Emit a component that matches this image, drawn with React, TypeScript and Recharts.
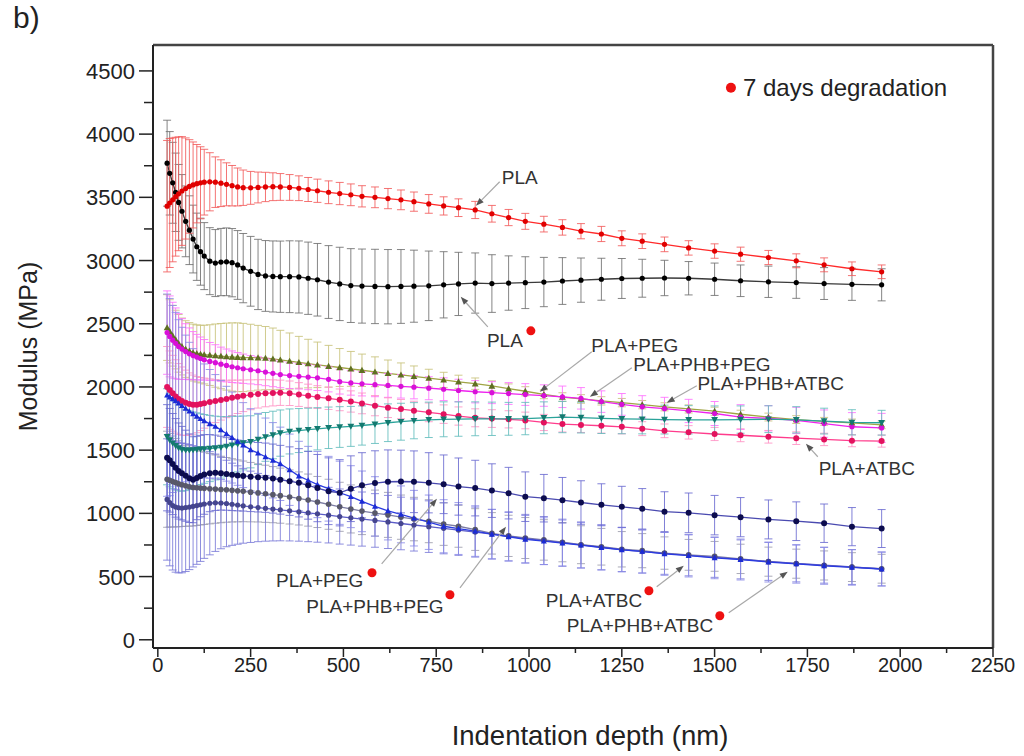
import { ComposedChart, Line, ErrorBar, XAxis, YAxis, ReferenceDot, ReferenceLine } from "recharts"

const FONT = '"Liberation Sans", Arial, Helvetica, sans-serif'

// indentation depth (nm) of the sampled points
const depth = [
  25, 32, 40, 48, 56, 65, 75, 85, 95, 105,
  115, 125, 140, 155, 170, 185, 200, 215, 230, 250,
  270, 290, 310, 330, 355, 380, 405, 430, 460, 490,
  520, 550, 585, 620, 655, 690, 730, 770, 810, 855,
  900, 945, 990, 1040, 1090, 1140, 1195, 1250, 1305, 1365,
  1430, 1500, 1570, 1645, 1720, 1795, 1870, 1950,
]

// fresh samples
const plaMean = [
  3430, 3455, 3480, 3505, 3528, 3550, 3570, 3586, 3598, 3608,
  3615, 3620, 3623, 3620, 3612, 3603, 3592, 3582, 3576, 3575,
  3578, 3582, 3584, 3582, 3578, 3572, 3562, 3552, 3540, 3530,
  3520, 3508, 3500, 3490, 3480, 3466, 3448, 3432, 3418, 3400,
  3370, 3340, 3310, 3288, 3262, 3232, 3210, 3176, 3153, 3128,
  3100, 3075, 3050, 3024, 2998, 2966, 2935, 2911,
]
const plaErr = [
  520, 510, 490, 470, 450, 430, 400, 370, 340, 310,
  285, 260, 230, 200, 185, 170, 160, 150, 140, 130,
  122, 116, 110, 106, 102, 98, 95, 92, 90, 88,
  86, 84, 82, 80, 78, 76, 74, 72, 70, 68,
  66, 64, 63, 62, 61, 60, 60, 59, 58, 58,
  57, 57, 56, 56, 55, 55, 54, 54,
]
const pegMean = [
  2470, 2440, 2405, 2375, 2345, 2320, 2300, 2285, 2272, 2265,
  2260, 2256, 2252, 2248, 2244, 2240, 2237, 2235, 2233, 2232,
  2231, 2228, 2222, 2214, 2205, 2195, 2185, 2175, 2164, 2154,
  2143, 2132, 2120, 2108, 2096, 2084, 2070, 2056, 2041, 2026,
  2008, 1986, 1966, 1942, 1920, 1905, 1890, 1876, 1860, 1843,
  1826, 1808, 1784, 1762, 1742, 1728, 1716, 1700,
]
const pegErr = [
  260, 250, 240, 232, 228, 225, 224, 224, 225, 226,
  228, 232, 240, 250, 258, 265, 270, 272, 270, 264,
  256, 250, 244, 234, 222, 205, 192, 180, 165, 150,
  138, 128, 118, 105, 94, 82, 70, 60, 52, 45,
  40, 38, 36, 35, 34, 34, 33, 33, 33, 32,
  32, 32, 32, 31, 31, 31, 30, 30,
]
const phbPegMean = [
  2430, 2400, 2370, 2345, 2320, 2300, 2280, 2262, 2248, 2236,
  2225, 2215, 2202, 2192, 2180, 2170, 2160, 2152, 2144, 2136,
  2128, 2118, 2108, 2098, 2090, 2084, 2078, 2072, 2060, 2042,
  2032, 2025, 2018, 2012, 2005, 1998, 1990, 1982, 1972, 1962,
  1955, 1948, 1940, 1932, 1922, 1910, 1884, 1862, 1843, 1828,
  1810, 1790, 1762, 1752, 1735, 1710, 1685, 1676,
]
const phbPegErr = [
  330, 320, 300, 280, 260, 240, 220, 205, 190, 180,
  170, 160, 150, 142, 135, 130, 125, 120, 116, 112,
  110, 108, 106, 104, 102, 100, 100, 100, 99, 98,
  97, 96, 95, 94, 93, 92, 91, 90, 89, 88,
  87, 86, 86, 85, 85, 85, 85, 86, 88, 90,
  92, 95, 98, 100, 104, 108, 112, 115,
]
const phbAtbcMean = [
  1606, 1580, 1555, 1535, 1518, 1505, 1500, 1500, 1502, 1505,
  1508, 1510, 1513, 1517, 1522, 1530, 1540, 1548, 1557, 1566,
  1585, 1605, 1620, 1635, 1648, 1655, 1662, 1669, 1677, 1683,
  1688, 1695, 1705, 1717, 1725, 1733, 1740, 1744, 1746, 1748,
  1748, 1748, 1750, 1756, 1762, 1758, 1752, 1748, 1745, 1742,
  1740, 1740, 1742, 1745, 1740, 1730, 1720, 1717,
]
const phbAtbcErr = [
  380, 370, 360, 350, 340, 330, 320, 310, 300, 290,
  280, 272, 262, 252, 243, 235, 228, 220, 213, 206,
  199, 193, 188, 183, 178, 174, 170, 167, 164, 161,
  158, 155, 152, 149, 146, 143, 140, 138, 136, 134,
  132, 130, 128, 126, 124, 122, 120, 118, 116, 114,
  112, 110, 108, 106, 104, 102, 100, 98,
]
const atbcMean = [
  2000, 1975, 1950, 1925, 1905, 1888, 1875, 1865, 1860, 1860,
  1865, 1872, 1880, 1888, 1896, 1905, 1914, 1922, 1930, 1938,
  1945, 1950, 1953, 1954, 1950, 1940, 1930, 1920, 1910, 1898,
  1885, 1870, 1852, 1836, 1825, 1812, 1799, 1785, 1770, 1756,
  1750, 1744, 1735, 1719, 1706, 1700, 1693, 1685, 1670, 1653,
  1641, 1628, 1618, 1606, 1595, 1585, 1575, 1572,
]
const atbcErr = [
  320, 310, 300, 290, 280, 270, 258, 246, 234, 222,
  210, 198, 184, 170, 158, 148, 140, 132, 125, 118,
  112, 107, 103, 100, 97, 94, 92, 90, 88, 86,
  84, 82, 80, 78, 76, 75, 74, 73, 72, 71,
  70, 68, 66, 64, 62, 60, 58, 56, 55, 54,
  53, 52, 51, 50, 50, 49, 48, 48,
]

// after 7 days degradation
const pla7Mean = [
  3770, 3690, 3615, 3540, 3460, 3390, 3310, 3240, 3170, 3109,
  3070, 3035, 2995, 2980, 2988, 2990, 2983, 2965, 2940, 2915,
  2890, 2878, 2874, 2872, 2872, 2870, 2860, 2848, 2830, 2815,
  2802, 2798, 2795, 2793, 2795, 2797, 2800, 2808, 2815, 2822,
  2818, 2822, 2825, 2830, 2838, 2845, 2852, 2858, 2860, 2862,
  2860, 2852, 2840, 2832, 2826, 2818, 2812, 2808,
]
const pla7Err = [
  340, 330, 320, 310, 300, 290, 280, 272, 268, 266,
  265, 265, 265, 265, 266, 268, 270, 272, 274, 276,
  278, 280, 281, 282, 284, 285, 286, 287, 288, 290,
  292, 293, 294, 294, 292, 285, 275, 262, 250, 238,
  228, 215, 205, 195, 185, 175, 166, 158, 150, 140,
  132, 128, 125, 124, 125, 126, 127, 127,
]
const peg7Mean = [
  1440, 1420, 1390, 1360, 1335, 1318, 1298, 1278, 1266, 1280,
  1295, 1308, 1318, 1321, 1318, 1312, 1305, 1300, 1296, 1290,
  1286, 1282, 1275, 1266, 1255, 1242, 1222, 1200, 1175, 1163,
  1195, 1222, 1240, 1250, 1252, 1250, 1242, 1230, 1212, 1200,
  1180, 1160, 1132, 1120, 1104, 1086, 1068, 1052, 1036, 1013,
  1004, 986, 970, 952, 938, 922, 895, 880,
]
const peg7Err = [
  420, 410, 400, 390, 380, 370, 360, 350, 340, 330,
  322, 315, 305, 298, 292, 287, 283, 280, 278, 276,
  275, 274, 273, 272, 271, 270, 268, 266, 264, 262,
  260, 258, 255, 252, 248, 244, 238, 232, 226, 220,
  212, 204, 196, 188, 180, 172, 166, 162, 160, 158,
  157, 156, 155, 154, 153, 152, 151, 150,
]
const phbPeg7Mean = [
  1935, 1920, 1905, 1890, 1872, 1852, 1830, 1808, 1788, 1768,
  1750, 1732, 1708, 1688, 1660, 1630, 1600, 1570, 1540, 1503,
  1476, 1448, 1420, 1392, 1345, 1295, 1262, 1228, 1195, 1163,
  1132, 1095, 1055, 1020, 992, 962, 930, 898, 880, 860,
  835, 815, 795, 780, 765, 748, 730, 712, 700, 680,
  665, 648, 635, 615, 600, 585, 572, 560,
]
const phbPeg7Err = [
  800, 780, 740, 700, 660, 620, 580, 545, 515, 490,
  470, 450, 430, 410, 392, 375, 360, 348, 336, 325,
  315, 306, 298, 290, 282, 275, 268, 262, 256, 250,
  245, 240, 235, 230, 225, 220, 215, 210, 205, 200,
  196, 192, 188, 185, 182, 180, 178, 175, 172, 170,
  168, 165, 162, 158, 152, 146, 140, 134,
]
const atbc7Mean = [
  1270, 1262, 1252, 1243, 1234, 1226, 1218, 1211, 1205, 1202,
  1200, 1198, 1195, 1192, 1189, 1186, 1182, 1178, 1174, 1168,
  1162, 1155, 1148, 1140, 1130, 1118, 1105, 1090, 1072, 1052,
  1035, 1018, 1002, 988, 970, 955, 938, 915, 898, 872,
  842, 822, 805, 790, 772, 752, 736, 716, 705, 686,
  672, 660, 640, 618, 602, 588, 575, 562,
]
const atbc7Err = [
  380, 370, 360, 350, 340, 330, 320, 312, 305, 298,
  292, 286, 278, 270, 263, 256, 250, 245, 240, 235,
  230, 226, 222, 218, 214, 210, 206, 202, 198, 194,
  190, 186, 182, 178, 175, 172, 170, 168, 166, 165,
  164, 163, 162, 160, 155, 150, 145, 140, 135, 128,
  122, 118, 116, 115, 115, 115, 114, 114,
]
const phbAtbc7Mean = [
  1110, 1085, 1062, 1050, 1044, 1042, 1045, 1050, 1056, 1062,
  1068, 1074, 1080, 1084, 1082, 1078, 1072, 1066, 1060, 1052,
  1046, 1040, 1034, 1028, 1020, 1012, 1004, 996, 986, 975,
  965, 955, 944, 932, 920, 908, 895, 882, 868, 852,
  836, 818, 800, 785, 768, 750, 732, 714, 698, 684,
  668, 652, 636, 620, 604, 590, 576, 560,
]
const phbAtbc7Err = [
  480, 500, 510, 515, 515, 512, 505, 495, 480, 465,
  448, 430, 408, 385, 362, 342, 325, 310, 296, 282,
  270, 260, 252, 245, 238, 232, 228, 224, 220, 218,
  216, 214, 212, 210, 208, 206, 204, 202, 200, 198,
  196, 194, 192, 190, 186, 182, 178, 174, 170, 166,
  162, 158, 154, 150, 146, 142, 138, 134,
]

const xTicks = [0, 125, 250, 375, 500, 625, 750, 875, 1000, 1125, 1250, 1375, 1500, 1625, 1750, 1875, 2000, 2125, 2250]
const yTicks = [0, 250, 500, 750, 1000, 1250, 1500, 1750, 2000, 2250, 2500, 2750, 3000, 3250, 3500, 3750, 4000, 4250, 4500]

// drawing order and styles
const series = [
  { id: "pla7", mean: pla7Mean, err: pla7Err, line: "#3a3a3a", dot: "#000000", bar: "#707070", shape: "circle", r: 2.6 },
  { id: "pla", mean: plaMean, err: plaErr, line: "#ff2a2a", dot: "#e00000", bar: "#f25c5c", shape: "circle", r: 2.6 },
  { id: "peg", mean: pegMean, err: pegErr, line: "#a0a444", dot: "#5f6f22", bar: "#c8c27a", shape: "up", r: 3.4 },
  { id: "phbPeg", mean: phbPegMean, err: phbPegErr, line: "#ee22ee", dot: "#d810d8", bar: "#ff70ff", shape: "circle", r: 2.6 },
  { id: "atbc", mean: atbcMean, err: atbcErr, line: "#ff3c8c", dot: "#e3125e", bar: "#ff92c4", shape: "circle", r: 3 },
  { id: "phbAtbc", mean: phbAtbcMean, err: phbAtbcErr, line: "#2aa39a", dot: "#137a70", bar: "#62bcbc", shape: "down", r: 3.4 },
  { id: "atbc7", mean: atbc7Mean, err: atbc7Err, line: "#7c7ca4", dot: "#58586a", bar: "#9c9cab", shape: "circle", r: 2.8 },
  { id: "phbAtbc7", mean: phbAtbc7Mean, err: phbAtbc7Err, line: "#5c5cc8", dot: "#45458e", bar: "#7a7ad8", shape: "circle", r: 2.6 },
  { id: "phbPeg7", mean: phbPeg7Mean, err: phbPeg7Err, line: "#2a3ae0", dot: "#1b2bd6", bar: "#8c8ce8", shape: "up", r: 3 },
  { id: "peg7", mean: peg7Mean, err: peg7Err, line: "#4a4ab0", dot: "#0c0c4e", bar: "#6a6ad0", shape: "circle", r: 3 },
]

const rows = depth.map((d, i) => {
  const row: Record<string, number> = { depth: d }
  series.forEach((s) => {
    row[s.id] = s.mean[i]
    row[s.id + "Err"] = s.err[i]
  })
  return row
})

// annotation labels, in data coordinates
const labels = [
  { text: "PLA", x: 975, y: 3663 },
  { text: "PLA", x: 935, y: 2373 },
  { text: "PLA+PEG", x: 1285, y: 2334 },
  { text: "PLA+PHB+PEG", x: 1466, y: 2183 },
  { text: "PLA+PHB+ATBC", x: 1651, y: 2033 },
  { text: "PLA+ATBC", x: 1910, y: 1361 },
  { text: "PLA+PEG", x: 436, y: 475 },
  { text: "PLA+PHB+PEG", x: 585, y: 269 },
  { text: "PLA+ATBC", x: 1175, y: 316 },
  { text: "PLA+PHB+ATBC", x: 1299, y: 119 },
]
const redDots = [
  { x: 1005, y: 2444 },
  { x: 577, y: 530 },
  { x: 787, y: 356 },
  { x: 1323, y: 388 },
  { x: 1514, y: 190 },
]
// leader lines: from label side to arrow tip
const leaders = [
  [{ x: 921, y: 3623 }, { x: 857, y: 3433 }],
  [{ x: 889, y: 2476 }, { x: 816, y: 2713 }],
  [{ x: 1169, y: 2278 }, { x: 1029, y: 1962 }],
  [{ x: 1277, y: 2152 }, { x: 1164, y: 1922 }],
  [{ x: 1452, y: 2009 }, { x: 1371, y: 1875 }],
  [{ x: 1778, y: 1448 }, { x: 1746, y: 1551 }],
  [{ x: 603, y: 601 }, { x: 752, y: 1115 }],
  [{ x: 814, y: 411 }, { x: 938, y: 894 }],
  [{ x: 1344, y: 419 }, { x: 1417, y: 585 }],
  [{ x: 1538, y: 214 }, { x: 1697, y: 538 }],
]

function makeDot(id: string, shape: string, fill: string, r: number) {
  return (p: any) => {
    const { cx, cy, index } = p
    const key = `${id}-${index}`
    if (cx == null || cy == null) return <g key={key} />
    if (shape === "up")
      return <polygon key={key} points={`${cx},${cy - r} ${cx - r},${cy + r * 0.8} ${cx + r},${cy + r * 0.8}`} fill={fill} />
    if (shape === "down")
      return <polygon key={key} points={`${cx},${cy + r} ${cx - r},${cy - r * 0.8} ${cx + r},${cy - r * 0.8}`} fill={fill} />
    return <circle key={key} cx={cx} cy={cy} r={r} fill={fill} />
  }
}

function Leader(props: any) {
  const { x1, y1, x2, y2 } = props
  if ([x1, y1, x2, y2].some((v) => v == null || isNaN(v))) return <g />
  const a = Math.atan2(y2 - y1, x2 - x1)
  const len = 8
  const w = 3
  const bx = x2 - len * Math.cos(a)
  const by = y2 - len * Math.sin(a)
  const px = -Math.sin(a) * w
  const py = Math.cos(a) * w
  return (
    <g>
      <line x1={x1} y1={y1} x2={bx} y2={by} stroke="#a8a8a8" strokeWidth={1.2} />
      <polygon points={`${x2},${y2} ${bx + px},${by + py} ${bx - px},${by - py}`} fill="#555" />
    </g>
  )
}

function XTick(props: any) {
  const { x, y, payload } = props
  const major = payload.value % 250 === 0
  return (
    <g>
      <line x1={x} x2={x} y1={y} y2={y + (major ? 9 : 5)} stroke="#222" strokeWidth={1.5} />
      {major && (
        <text x={x} y={y + 24} textAnchor="middle" fontSize={20} fontFamily={FONT} fill="#222">
          {payload.value}
        </text>
      )}
    </g>
  )
}

function YTick(props: any) {
  const { x, y, payload } = props
  const major = payload.value % 500 === 0
  return (
    <g>
      <line x1={x - (major ? 14 : 9)} x2={x} y1={y} y2={y} stroke="#222" strokeWidth={1.5} />
      {major && (
        <text x={x - 18} y={y + 8} textAnchor="end" fontSize={22} fontFamily={FONT} fill="#222">
          {payload.value}
        </text>
      )}
    </g>
  )
}

export default function App() {
  return (
    <div style={{ position: "absolute", left: 0, top: 0, width: 1024, height: 756, background: "#fff" }}>
      <div style={{ position: "absolute", left: 13, top: 3, fontFamily: FONT, fontSize: 30, lineHeight: 1, color: "#222" }}>b)</div>
      <ComposedChart width={1024} height={756} data={rows} margin={{ top: 45, right: 31, left: 0, bottom: 0 }}>
        <XAxis
          dataKey="depth"
          type="number"
          domain={[-13, 2250]}
          ticks={xTicks}
          interval={0}
          allowDataOverflow
          height={108}
          tickSize={0}
          tickMargin={0}
          tickLine={false}
          tick={(p: any) => <XTick {...p} />}
          axisLine={{ stroke: "#222", strokeWidth: 2 }}
          label={(p: any) => {
            const vb = p.viewBox || { x: 153, y: 648, width: 840 }
            return (
              <text x={vb.x + vb.width / 2 + 17} y={vb.y + 97} textAnchor="middle" fontSize={27.5} fontFamily={FONT} fill="#222">
                Indentation depth (nm)
              </text>
            )
          }}
        />
        <YAxis
          type="number"
          domain={[-65, 4705]}
          ticks={yTicks}
          interval={0}
          allowDataOverflow
          width={153}
          tickSize={0}
          tickMargin={0}
          tickLine={false}
          tick={(p: any) => <YTick {...p} />}
          axisLine={{ stroke: "#222", strokeWidth: 2 }}
          label={(p: any) => {
            const vb = p.viewBox || { x: 0, y: 45, height: 603 }
            const cx = vb.x + 28
            const cy = vb.y + vb.height / 2
            return (
              <text x={cx} y={cy} transform={`rotate(-90 ${cx} ${cy})`} textAnchor="middle" dominantBaseline="central" fontSize={25} fontFamily={FONT} fill="#222">
                Modulus (MPa)
              </text>
            )
          }}
        />

        {/* plot frame: top and right borders */}
        <ReferenceLine y={4705} stroke="#444" strokeWidth={2.5} ifOverflow="visible" />
        <ReferenceLine x={2250} stroke="#444" strokeWidth={2.5} ifOverflow="visible" />

        {series.map((s) => (
          <Line
            key={s.id}
            dataKey={s.id}
            type="linear"
            stroke={s.line}
            strokeWidth={1.3}
            dot={makeDot(s.id, s.shape, s.dot, s.r)}
            activeDot={false}
            isAnimationActive={false}
          >
            <ErrorBar dataKey={s.id + "Err"} direction="y" width={4} stroke={s.bar} strokeWidth={1} strokeOpacity={0.85} isAnimationActive={false} />
          </Line>
        ))}

        {leaders.map((seg, i) => (
          <ReferenceLine key={"ld" + i} segment={seg} ifOverflow="visible" shape={(p: any) => <Leader {...p} />} />
        ))}
        {labels.map((l, i) => (
          <ReferenceDot
            key={"lb" + i}
            x={l.x}
            y={l.y}
            r={0}
            ifOverflow="visible"
            shape={(p: any) => (
              <text x={p.cx} y={p.cy + 7} textAnchor="middle" fontSize={19} fontFamily={FONT} fill="#333">
                {l.text}
              </text>
            )}
          />
        ))}
        {redDots.map((d, i) => (
          <ReferenceDot key={"rd" + i} x={d.x} y={d.y} r={4.5} fill="#ee1111" stroke="none" ifOverflow="visible" />
        ))}
        <ReferenceDot
          x={1544}
          y={4367}
          r={0}
          ifOverflow="visible"
          shape={(p: any) => (
            <g>
              <circle cx={p.cx} cy={p.cy} r={5} fill="#ee1111" />
              <text x={p.cx + 12} y={p.cy + 8.5} fontSize={24} fontFamily={FONT} fill="#222">
                7 days degradation
              </text>
            </g>
          )}
        />
      </ComposedChart>
    </div>
  )
}
